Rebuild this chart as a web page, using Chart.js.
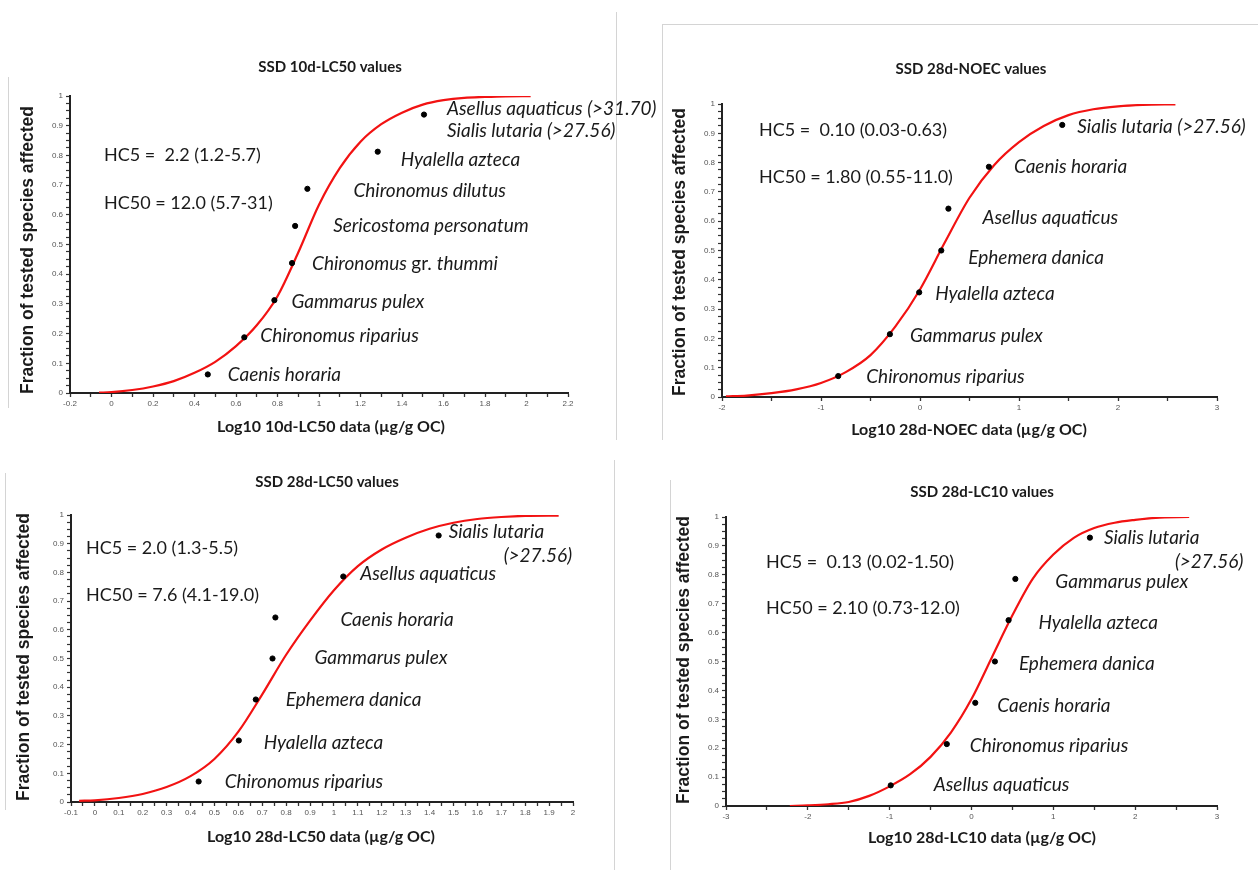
<!DOCTYPE html>
<html>
<head>
<meta charset="utf-8">
<script src="https://cdn.jsdelivr.net/npm/chart.js@4.4.0/dist/chart.umd.min.js"></script>
<style>
body{margin:0;background:#fff;width:1258px;height:870px;position:relative;overflow:hidden}
canvas{position:absolute}
.edge{position:absolute;background:#d4d4d4}
</style>
</head>
<body>
<div class="edge" style="left:8px;top:77px;width:1px;height:331px"></div>
<div class="edge" style="left:616px;top:12px;width:1px;height:428px"></div>
<div class="edge" style="left:662px;top:24px;width:596px;height:1px"></div>
<div class="edge" style="left:662px;top:24px;width:1px;height:416px"></div>
<div class="edge" style="left:5px;top:473px;width:1px;height:337px"></div>
<div class="edge" style="left:614px;top:460px;width:1px;height:410px"></div>
<div class="edge" style="left:670px;top:480px;width:1px;height:390px"></div>
<canvas id="c1"></canvas>
<canvas id="c2"></canvas>
<canvas id="c3"></canvas>
<canvas id="c4"></canvas>
<script>
// ---- SSD 10d-LC50 (top left) ----
var lc50_10d_x = [0.464, 0.640, 0.785, 0.870, 0.885, 0.944, 1.283, 1.506];
var lc50_10d_y = [0.0625, 0.1875, 0.3125, 0.4375, 0.5625, 0.6875, 0.8125, 0.9375];
var lc50_10d_species = ["Caenis horaria", "Chironomus riparius", "Gammarus pulex", "Chironomus gr. thummi",
    "Sericostoma personatum", "Chironomus dilutus", "Hyalella azteca", "Asellus aquaticus (>31.70)", "Sialis lutaria (>27.56)"];
var lc50_10d_speciesPoint = [0, 1, 2, 3, 4, 5, 6, 7, 7];
var lc50_10d_curveX = [-0.06, 0.0, 0.1, 0.2, 0.3, 0.4, 0.5, 0.6, 0.7, 0.8, 0.9, 1.0, 1.1, 1.2, 1.3, 1.4, 1.5, 1.6, 1.7, 1.8, 1.9, 2.02];
var lc50_10d_curveY = [0.001, 0.003, 0.010, 0.022, 0.040, 0.068, 0.105, 0.158, 0.228, 0.326, 0.473, 0.634, 0.757, 0.846, 0.905, 0.944, 0.971, 0.986, 0.994, 0.997, 0.999, 0.9995];
var lc50_10d_hc = ["HC5 =  2.2 (1.2-5.7)", "HC50 = 12.0 (5.7-31)"];
var lc50_10d_xAxis = [-0.2, 2.2, 0.1, 0.2];   // min, max, tick step, label step

// ---- SSD 28d-NOEC (top right) ----
var noec_28d_x = [-0.826, -0.304, -0.008, 0.215, 0.287, 0.696, 1.437];
var noec_28d_y = [0.0714, 0.2143, 0.3571, 0.5, 0.6429, 0.7857, 0.9286];
var noec_28d_species = ["Chironomus riparius", "Gammarus pulex", "Hyalella azteca", "Ephemera danica",
    "Asellus aquaticus", "Caenis horaria", "Sialis lutaria (>27.56)"];
var noec_28d_speciesPoint = [0, 1, 2, 3, 4, 5, 6];
var noec_28d_curveX = [-1.96, -1.75, -1.5, -1.25, -1.0, -0.75, -0.5, -0.25, 0.0, 0.25, 0.5, 0.75, 1.0, 1.25, 1.5, 1.75, 2.0, 2.25, 2.58];
var noec_28d_curveY = [0.002, 0.005, 0.013, 0.026, 0.048, 0.085, 0.143, 0.24, 0.367, 0.527, 0.68, 0.792, 0.87, 0.925, 0.962, 0.982, 0.992, 0.997, 0.999];
var noec_28d_hc = ["HC5 =  0.10 (0.03-0.63)", "HC50 = 1.80 (0.55-11.0)"];
var noec_28d_xAxis = [-2, 3, 0.5, 1];

// ---- SSD 28d-LC50 (bottom left) ----
var lc50_28d_x = [0.434, 0.602, 0.673, 0.743, 0.755, 1.039, 1.438];
var lc50_28d_y = [0.0714, 0.2143, 0.3571, 0.5, 0.6429, 0.7857, 0.9286];
var lc50_28d_species = ["Chironomus riparius", "Hyalella azteca", "Ephemera danica", "Gammarus pulex",
    "Caenis horaria", "Asellus aquaticus", "Sialis lutaria", "(>27.56)"];
var lc50_28d_speciesPoint = [0, 1, 2, 3, 4, 5, 6, 6];
var lc50_28d_curveX = [-0.066, 0.0, 0.1, 0.2, 0.3, 0.4, 0.5, 0.6, 0.7, 0.8, 0.9, 1.0, 1.1, 1.2, 1.3, 1.4, 1.5, 1.6, 1.7, 1.8, 1.94];
var lc50_28d_curveY = [0.004, 0.006, 0.014, 0.028, 0.052, 0.09, 0.15, 0.245, 0.375, 0.513, 0.632, 0.738, 0.822, 0.88, 0.921, 0.952, 0.973, 0.986, 0.993, 0.997, 0.998];
var lc50_28d_hc = ["HC5 = 2.0 (1.3-5.5)", "HC50 = 7.6 (4.1-19.0)"];
var lc50_28d_xAxis = [-0.1, 2, 0.05, 0.1];

// ---- SSD 28d-LC10 (bottom right) ----
var lc10_28d_x = [-0.987, -0.302, 0.046, 0.286, 0.453, 0.536, 1.447];
var lc10_28d_y = [0.0714, 0.2143, 0.3571, 0.5, 0.6429, 0.7857, 0.9286];
var lc10_28d_species = ["Asellus aquaticus", "Chironomus riparius", "Caenis horaria", "Ephemera danica",
    "Hyalella azteca", "Gammarus pulex", "Sialis lutaria", "(>27.56)"];
var lc10_28d_speciesPoint = [0, 1, 2, 3, 4, 5, 6, 6];
var lc10_28d_curveX = [-2.22, -2.0, -1.75, -1.5, -1.25, -1.0, -0.75, -0.5, -0.25, 0.0, 0.25, 0.5, 0.75, 1.0, 1.25, 1.5, 1.75, 2.0, 2.25, 2.66];
var lc10_28d_curveY = [0.0, 0.002, 0.006, 0.014, 0.035, 0.068, 0.11, 0.17, 0.255, 0.37, 0.515, 0.66, 0.787, 0.87, 0.928, 0.962, 0.98, 0.99, 0.997, 1.0];
var lc10_28d_hc = ["HC5 =  0.13 (0.02-1.50)", "HC50 = 2.10 (0.73-12.0)"];
var lc10_28d_xAxis = [-3, 3, 0.5, 1];

var yAxisTicks = [0, 1, 0.025, 0.1];

// page layout of the four panels (pixels)
var layout1 = {box: [0, 0, 690, 450], plot: [70, 96, 568, 393], title: [330, 67], xTitle: [331, 427], yTitle: [28, 250], hc: [104, 155, 203],
    labelOff: [[20, 0], [16, -1], [17, 2], [20, 1], [38, 0], [46, 2], [23, 8], [23, -6], [23, 16]]};
var layout2 = {box: [640, 0, 618, 450], plot: [722, 104, 1217, 397], title: [971, 69], xTitle: [969, 430], yTitle: [680, 252], hc: [759, 130, 177],
    labelOff: [[28, 1], [20, 2], [16, 2], [27, 7], [34, 9], [25, 0], [15, 2]]};
var layout3 = {box: [0, 450, 640, 420], plot: [71, 515, 573, 802], title: [327, 482], xTitle: [321, 837], yTitle: [24, 657], hc: [86, 548, 595],
    labelOff: [[26, 0], [25, 2], [30, 0], [42, -1], [65, 2], [17, -3], [10, -4], [65, 20]]};
var layout4 = {box: [640, 450, 618, 420], plot: [726, 517, 1217, 806], title: [982, 492], xTitle: [982, 838], yTitle: [684, 660], hc: [766, 562, 608],
    labelOff: [[43, 0], [23, 2], [22, 3], [24, 2], [30, 3], [40, 3], [14, 0], [85, 24]]};

var Y_W = 26, X_H = 20;

function isMajor(v, every) {
    var r = v / every;
    return Math.abs(r - Math.round(r)) < 1e-6;
}
function fmt(v) {
    return String(Math.round(v * 100) / 100);
}

// species names are italic, only the "gr." stays upright
function drawName(ctx, name, x, y) {
    var words = name.split(' ');
    words.forEach(function (w) {
        ctx.font = (w === 'gr.' ? '' : 'italic ') + '19px Lato';
        ctx.fillText(w, x, y);
        x += ctx.measureText(w + ' ').width;
    });
}

function ssdChart(id, title, xTitle, xs, ys, species, speciesPoint, cx, cy, hc, xAxis, lay) {
    var cv = document.getElementById(id);
    var b = lay.box, p = lay.plot;
    cv.width = b[2];
    cv.height = b[3];
    cv.style.left = b[0] + 'px';
    cv.style.top = b[1] + 'px';

    var pts = xs.map(function (v, i) { return {x: v, y: ys[i]}; });
    var curve = cx.map(function (v, i) { return {x: v, y: cy[i]}; });

    // titles, HC values and species names
    var textPlugin = {
        id: 'ssdText',
        afterDraw: function (chart) {
            var ctx = chart.ctx;
            var ox = b[0], oy = b[1];
            ctx.save();
            ctx.fillStyle = '#1a1a1a';
            ctx.textBaseline = 'middle';
            ctx.textAlign = 'center';
            ctx.font = 'bold 15px Lato';
            ctx.fillText(title, lay.title[0] - ox, lay.title[1] - oy);
            ctx.font = 'bold 16px Lato';
            ctx.fillText(xTitle, lay.xTitle[0] - ox, lay.xTitle[1] - oy);
            ctx.save();
            ctx.translate(lay.yTitle[0] - ox, lay.yTitle[1] - oy);
            ctx.rotate(-Math.PI / 2);
            ctx.font = 'bold 17.5px "Liberation Sans"';
            ctx.fillText('Fraction of tested species affected', 0, 0);
            ctx.restore();

            ctx.textAlign = 'left';
            ctx.font = '18px Lato';
            ctx.fillText(hc[0], lay.hc[0] - ox, lay.hc[1] - oy);
            ctx.fillText(hc[1], lay.hc[0] - ox, lay.hc[2] - oy);

            var xs_ = chart.scales.x, ys_ = chart.scales.y;
            species.forEach(function (name, i) {
                var k = speciesPoint[i];
                var px = xs_.getPixelForValue(xs[k]) + lay.labelOff[i][0];
                var py = ys_.getPixelForValue(ys[k]) + lay.labelOff[i][1];
                drawName(ctx, name, px, py);
            });
            ctx.restore();
        }
    };

    return new Chart(cv, {
        type: 'scatter',
        data: {
            datasets: [{
                data: pts,
                backgroundColor: '#000',
                borderColor: '#000',
                pointRadius: 2.6,
                pointHoverRadius: 2.6,
                order: 0
            }, {
                data: curve,
                showLine: true,
                borderColor: '#f21212',
                borderWidth: 2.2,
                pointRadius: 0,
                cubicInterpolationMode: 'monotone',
                order: 1
            }]
        },
        options: {
            responsive: false,
            animation: false,
            events: [],
            layout: {
                padding: {
                    left: p[0] - b[0] - Y_W,
                    top: p[1] - b[1],
                    right: b[0] + b[2] - p[2],
                    bottom: b[1] + b[3] - p[3] - X_H
                }
            },
            plugins: {legend: {display: false}, tooltip: {enabled: false}},
            scales: {
                x: {
                    type: 'linear',
                    min: xAxis[0],
                    max: xAxis[1],
                    ticks: {
                        stepSize: xAxis[2],
                        autoSkip: false,
                        maxRotation: 0,
                        padding: 2,
                        color: '#555',
                        font: {family: 'Liberation Sans', size: 8},
                        callback: function (v) { return isMajor(v, xAxis[3]) ? fmt(v) : ''; }
                    },
                    grid: {drawOnChartArea: false, tickLength: 4, tickColor: '#333', tickWidth: 1.3},
                    border: {color: '#222', width: 2},
                    afterFit: function (s) { s.height = X_H; s.paddingLeft = 0; s.paddingRight = 0; }
                },
                y: {
                    type: 'linear',
                    min: yAxisTicks[0],
                    max: yAxisTicks[1],
                    ticks: {
                        stepSize: yAxisTicks[2],
                        autoSkip: false,
                        padding: 3,
                        color: '#555',
                        font: {family: 'Liberation Sans', size: 8},
                        callback: function (v) { return isMajor(v, yAxisTicks[3]) ? fmt(v) : ''; }
                    },
                    grid: {drawOnChartArea: false, tickLength: 4, tickColor: '#333', tickWidth: 1.2},
                    border: {color: '#222', width: 2},
                    afterFit: function (s) { s.width = Y_W; s.paddingTop = 0; s.paddingBottom = 0; }
                }
            }
        },
        plugins: [textPlugin]
    });
}

ssdChart('c1', 'SSD 10d-LC50 values', 'Log10 10d-LC50 data (\u00b5g/g OC)', lc50_10d_x, lc50_10d_y, lc50_10d_species,
    lc50_10d_speciesPoint, lc50_10d_curveX, lc50_10d_curveY, lc50_10d_hc, lc50_10d_xAxis, layout1);
ssdChart('c2', 'SSD 28d-NOEC values', 'Log10 28d-NOEC data (\u00b5g/g OC)', noec_28d_x, noec_28d_y, noec_28d_species,
    noec_28d_speciesPoint, noec_28d_curveX, noec_28d_curveY, noec_28d_hc, noec_28d_xAxis, layout2);
ssdChart('c3', 'SSD 28d-LC50 values', 'Log10 28d-LC50 data (\u00b5g/g OC)', lc50_28d_x, lc50_28d_y, lc50_28d_species,
    lc50_28d_speciesPoint, lc50_28d_curveX, lc50_28d_curveY, lc50_28d_hc, lc50_28d_xAxis, layout3);
ssdChart('c4', 'SSD 28d-LC10 values', 'Log10 28d-LC10 data (\u00b5g/g OC)', lc10_28d_x, lc10_28d_y, lc10_28d_species,
    lc10_28d_speciesPoint, lc10_28d_curveX, lc10_28d_curveY, lc10_28d_hc, lc10_28d_xAxis, layout4);
</script>
</body>
</html>
